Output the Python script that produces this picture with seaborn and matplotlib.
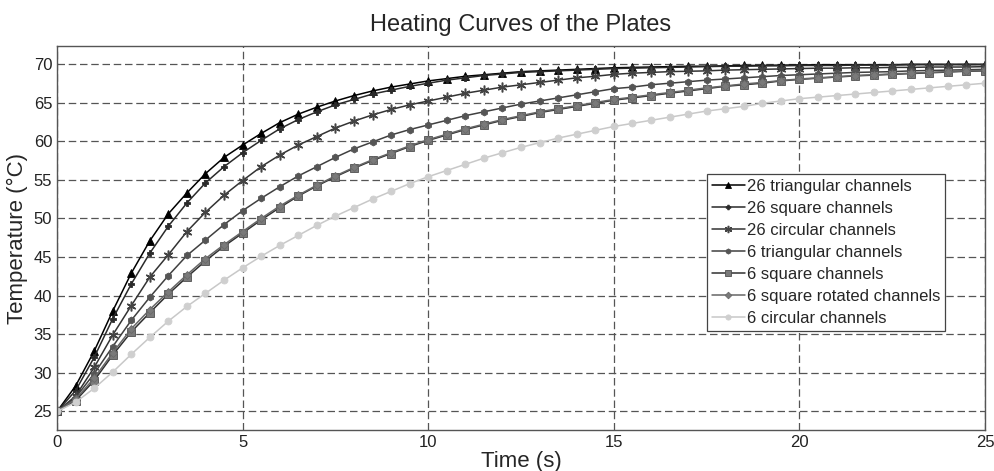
import matplotlib
matplotlib.use("Agg")
import matplotlib.pyplot as plt
import seaborn as sns
import pandas as pd

time_s = [0, 0.5, 1, 1.5, 2, 2.5, 3, 3.5, 4, 4.5,
          5, 5.5, 6, 6.5, 7, 7.5, 8, 8.5, 9, 9.5,
          10, 10.5, 11, 11.5, 12, 12.5, 13, 13.5, 14, 14.5,
          15, 15.5, 16, 16.5, 17, 17.5, 18, 18.5, 19, 19.5,
          20, 20.5, 21, 21.5, 22, 22.5, 23, 23.5, 24, 24.5, 25]

tri26 = [25.0, 28.3, 32.8, 38.0, 42.9, 47.1, 50.6, 53.3, 55.8, 57.9,
         59.5, 61.0, 62.4, 63.5, 64.4, 65.2, 65.9, 66.5, 67.0, 67.4,
         67.8, 68.1, 68.4, 68.6, 68.8, 69.0, 69.1, 69.2, 69.3, 69.4,
         69.5, 69.55, 69.6, 69.65, 69.7, 69.7, 69.75, 69.8, 69.8, 69.85,
         69.85, 69.9, 69.9, 69.9, 69.9, 69.9, 69.95, 69.95, 69.95, 69.95, 69.95]

sq26 = [25.0, 27.7, 32.0, 37.0, 41.5, 45.5, 49.0, 52.0, 54.6, 56.7,
        58.5, 60.1, 61.6, 62.8, 63.8, 64.7, 65.4, 66.1, 66.6, 67.1,
        67.5, 67.9, 68.2, 68.5, 68.7, 68.9, 69.0, 69.1, 69.2, 69.3,
        69.4, 69.45, 69.5, 69.55, 69.6, 69.65, 69.7, 69.7, 69.75, 69.75,
        69.8, 69.8, 69.8, 69.85, 69.85, 69.85, 69.9, 69.9, 69.9, 69.9, 69.9]

circ26 = [25.0, 27.0, 30.7, 34.9, 38.7, 42.4, 45.3, 48.3, 50.8, 53.0,
          54.9, 56.7, 58.2, 59.5, 60.6, 61.7, 62.6, 63.4, 64.1, 64.7,
          65.2, 65.7, 66.2, 66.6, 67.0, 67.3, 67.6, 67.9, 68.2, 68.4,
          68.65, 68.8, 68.9, 69.0, 69.05, 69.1, 69.2, 69.25, 69.3, 69.35,
          69.4, 69.45, 69.45, 69.5, 69.5, 69.55, 69.55, 69.6, 69.6, 69.6, 69.65]

tri6 = [25.0, 26.8, 29.9, 33.4, 36.8, 39.8, 42.6, 45.2, 47.2, 49.2,
        51.0, 52.6, 54.1, 55.5, 56.7, 57.9, 59.0, 59.9, 60.8, 61.5,
        62.1, 62.7, 63.3, 63.8, 64.3, 64.8, 65.2, 65.6, 66.0, 66.4,
        66.8, 67.0, 67.3, 67.5, 67.7, 67.9, 68.05, 68.2, 68.35, 68.5,
        68.6, 68.7, 68.8, 68.9, 68.95, 69.0, 69.1, 69.15, 69.2, 69.25, 69.3]

sq6 = [25.0, 26.4, 29.0, 32.3, 35.3, 37.8, 40.2, 42.4, 44.5, 46.4,
       48.1, 49.8, 51.4, 52.9, 54.2, 55.4, 56.5, 57.5, 58.4, 59.3,
       60.1, 60.8, 61.5, 62.1, 62.7, 63.2, 63.7, 64.1, 64.5, 64.9,
       65.3, 65.6, 65.9, 66.2, 66.5, 66.8, 67.1, 67.3, 67.5, 67.8,
       68.0, 68.15, 68.3, 68.45, 68.55, 68.65, 68.75, 68.85, 68.95, 69.05, 69.1]

sqrot6 = [25.0, 26.6, 29.3, 32.6, 35.7, 38.2, 40.5, 42.7, 44.8, 46.6,
          48.3, 50.0, 51.6, 53.0, 54.3, 55.5, 56.6, 57.6, 58.5, 59.4,
          60.2, 60.9, 61.6, 62.2, 62.8, 63.3, 63.8, 64.2, 64.6, 65.0,
          65.4, 65.7, 66.0, 66.3, 66.6, 66.9, 67.15, 67.4, 67.6, 67.85,
          68.05, 68.2, 68.35, 68.5, 68.6, 68.7, 68.8, 68.9, 69.0, 69.1, 69.15]

circ6 = [25.0, 26.2, 28.0, 30.1, 32.4, 34.6, 36.7, 38.6, 40.3, 42.0,
         43.6, 45.1, 46.5, 47.8, 49.1, 50.3, 51.4, 52.5, 53.5, 54.5,
         55.4, 56.2, 57.0, 57.8, 58.5, 59.2, 59.8, 60.4, 60.9, 61.4,
         61.9, 62.3, 62.7, 63.1, 63.5, 63.9, 64.2, 64.5, 64.9, 65.2,
         65.5, 65.7, 65.9, 66.1, 66.3, 66.5, 66.7, 66.9, 67.1, 67.3, 67.5]

labels = ["26 triangular channels", "26 square channels", "26 circular channels",
          "6 triangular channels", "6 square channels", "6 square rotated channels",
          "6 circular channels"]
values = [tri26, sq26, circ26, tri6, sq6, sqrot6, circ6]

styles = {
    "26 triangular channels": dict(color="#000000", marker="^", ms=6, mfc="#000000", mec="#000000", mew=0.6),
    "26 square channels": dict(color="#2a2a2a", marker="P", ms=4.5, mfc="#2a2a2a", mec="#2a2a2a", mew=0.6),
    "26 circular channels": dict(color="#333333", marker=(6, 2, 0), ms=7, mfc="#444444", mec="#444444", mew=1.1),
    "6 triangular channels": dict(color="#404040", marker="h", ms=5, mfc="#555555", mec="#555555", mew=0.6),
    "6 square channels": dict(color="#303030", marker="s", ms=5.5, mfc="#7a7a7a", mec="#505050", mew=0.6),
    "6 square rotated channels": dict(color="#666666", marker="D", ms=4.5, mfc="#7a7a7a", mec="#6a6a6a", mew=0.6),
    "6 circular channels": dict(color="#c8c8c8", marker="o", ms=5, mfc="#cfcfcf", mec="#cfcfcf", mew=0.6),
}

sns.set_style("white")
plt.rcParams['font.family'] = ['Liberation Sans', 'DejaVu Sans']

fig = plt.figure(figsize=(9.95, 4.71), dpi=100)
ax = fig.add_axes([0.0573, 0.087, 0.9327, 0.815])

for lab, vals in zip(labels, values):
    df = pd.DataFrame({"t": time_s, "T": vals})
    st = styles[lab]
    sns.lineplot(data=df, x="t", y="T", ax=ax, label=lab, color=st["color"],
                 marker=st["marker"], markersize=st["ms"], markerfacecolor=st["mfc"],
                 markeredgecolor=st["mec"], markeredgewidth=st["mew"], linewidth=1.1)

ax.set_xlim(0, 25)
ax.set_ylim(22.6, 72.3)
ax.set_xticks([0, 5, 10, 15, 20, 25])
ax.set_yticks([25, 30, 35, 40, 45, 50, 55, 60, 65, 70])
ax.grid(True, linestyle=(0, (6, 3)), color="#555555", linewidth=0.9)
ax.set_axisbelow(True)
for sp in ax.spines.values():
    sp.set_color("#555555")
    sp.set_linewidth(1.0)
ax.tick_params(axis="both", labelsize=12, length=4, direction="in", colors="#222222")
ax.set_xlabel("Time (s)", fontsize=16, labelpad=1)
ax.set_ylabel("Temperature (°C)", fontsize=16, labelpad=4)
ax.set_title("Heating Curves of the Plates", fontsize=17, pad=11)

leg = ax.legend(loc="lower left", bbox_to_anchor=(0.70, 0.258), fontsize=12,
                frameon=True, fancybox=False, edgecolor="#444444", framealpha=1,
                borderpad=0.3, labelspacing=0.42, handlelength=2.0, handletextpad=0.1,
                borderaxespad=0, markerscale=0.75)
leg.get_frame().set_linewidth(0.9)

fig.savefig("out.png", dpi=100)
